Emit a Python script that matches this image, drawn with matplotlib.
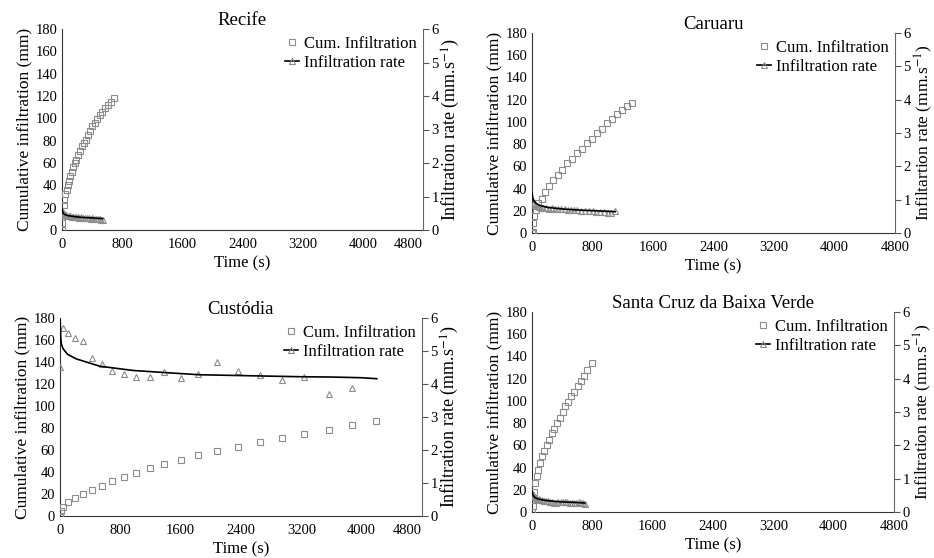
import matplotlib
matplotlib.use('Agg')
import matplotlib.pyplot as plt
from matplotlib.lines import Line2D

plt.rcParams['font.family'] = ['Liberation Serif', 'DejaVu Serif']
plt.rcParams['mathtext.fontset'] = 'stix'

# ---- data ----
# Recife
recife_cum_t = [0, 5, 10, 20, 30, 45, 60, 75, 90, 110, 130, 150, 170, 190, 215,
                240, 265, 290, 315, 345, 375, 405, 435, 465, 500, 535, 570, 610, 650, 690]
recife_cum = [0, 6, 13, 22, 27, 32, 36, 40, 44, 48, 52, 56, 60, 63, 67,
              71, 75, 78, 81, 85, 89, 93, 96, 99, 103, 106, 109, 112, 115, 118]
recife_rate_t = [0, 10, 20, 35, 50, 70, 90, 110, 130, 150, 170, 190, 210, 230, 255,
                 280, 305, 330, 355, 380, 405, 430, 455, 480, 500, 520, 540]
recife_rate = [0.50, 0.55, 0.47, 0.45, 0.44, 0.43, 0.42, 0.41, 0.40, 0.40, 0.39, 0.38, 0.38, 0.37, 0.38,
               0.36, 0.36, 0.37, 0.35, 0.34, 0.35, 0.33, 0.33, 0.32, 0.32, 0.31, 0.29]
recife_fit_t = [2, 10, 30, 60, 100, 200, 300, 400, 540]
recife_fit = [0.62, 0.53, 0.47, 0.44, 0.42, 0.39, 0.37, 0.36, 0.34]

# Caruaru
caruaru_cum_t = [0, 9, 18, 31, 53, 84, 128, 172, 230, 283, 340, 402, 459, 525, 591,
                 658, 724, 790, 857, 923, 989, 1055, 1120, 1185, 1250, 1320]
caruaru_cum = [0, 1, 9, 15, 21, 27, 31, 37, 42, 48, 52, 57, 63, 67, 72,
               76, 81, 85, 90, 94, 99, 103, 107, 111, 114, 117]
caruaru_rate_t = [0, 20, 40, 60, 90, 120, 150, 190, 230, 270, 310, 350, 390, 430,
                  470, 510, 550, 600, 650, 700, 750, 800, 850, 900, 950, 1000, 1050, 1100]
caruaru_rate = [1.00, 0.90, 0.84, 0.80, 0.78, 0.76, 0.75, 0.74, 0.73, 0.74, 0.72, 0.73, 0.72, 0.71,
                0.70, 0.70, 0.69, 0.68, 0.67, 0.66, 0.66, 0.65, 0.64, 0.63, 0.62, 0.61, 0.61, 0.66]
caruaru_fit_t = [2, 10, 30, 60, 100, 200, 400, 600, 800, 1000, 1100]
caruaru_fit = [1.19, 1.05, 0.95, 0.88, 0.83, 0.77, 0.72, 0.69, 0.67, 0.65, 0.64]

# Custodia
custodia_t = [0, 9, 40, 106, 194, 305, 429, 557, 694, 848, 1008, 1189, 1379, 1604,
              1825, 2077, 2355, 2651, 2943, 3239, 3562, 3867, 4189]
custodia_cum = [0, 5, 8.5, 12.8, 16, 20.4, 23.7, 27.4, 31.6, 35.6, 39.2, 43.8, 47.7, 51,
                55.6, 59.3, 62.9, 67.5, 71.1, 74.5, 78.4, 82.7, 86.3]
custodia_rate_t = [0, 44, 110, 194, 305, 429, 557, 694, 848, 1008, 1189, 1379, 1604,
                   1825, 2077, 2355, 2651, 2943, 3239, 3562, 3867]
custodia_rate = [4.53, 5.70, 5.55, 5.39, 5.31, 4.78, 4.61, 4.38, 4.29, 4.20, 4.21, 4.36, 4.19,
                 4.30, 4.68, 4.39, 4.28, 4.12, 4.20, 3.69, 3.88]
custodia_fit_t = [2, 10, 20, 40, 100, 217, 526, 968, 1500, 1852, 2300, 2735, 3200, 3619, 4000, 4200]
custodia_fit = [5.95, 5.40, 5.20, 5.07, 4.90, 4.76, 4.54, 4.41, 4.33, 4.28, 4.26, 4.24, 4.22, 4.21, 4.19, 4.16]

# Santa Cruz da Baixa Verde
scbv_cum_t = [0, 9, 17, 30, 43, 65, 86, 108, 138, 164, 195, 225, 259, 294, 329, 368,
              406, 441, 480, 519, 562, 605, 649, 692, 735, 791]
scbv_cum = [0, 5, 11, 18, 26, 32, 38, 44, 50, 55, 60, 65, 71, 75, 80, 85,
            90, 95, 99, 104, 108, 113, 118, 122, 128, 134]
scbv_rate_t = [0, 10, 20, 35, 50, 70, 90, 110, 135, 160, 185, 210, 235, 260, 290,
               320, 350, 380, 410, 440, 470, 500, 530, 560, 590, 620, 650, 680, 700]
scbv_rate = [0.50, 0.55, 0.48, 0.45, 0.42, 0.40, 0.38, 0.37, 0.36, 0.34, 0.33, 0.32, 0.30, 0.29, 0.28,
             0.28, 0.30, 0.30, 0.31, 0.30, 0.29, 0.28, 0.28, 0.27, 0.27, 0.30, 0.28, 0.26, 0.24]
scbv_fit_t = [2, 10, 30, 60, 100, 200, 300, 400, 550, 700]
scbv_fit = [0.62, 0.52, 0.45, 0.41, 0.38, 0.34, 0.32, 0.30, 0.29, 0.27]

x_ticks = [0, 800, 1600, 2400, 3200, 4000, 4800]

W, H = 934, 558
fig = plt.figure(figsize=(W / 100, H / 100), dpi=100)

grey = '#8c8c8c'


def panel(box, title, cum_t, cum, rate_t, rate, fit_t, fit, rlabel, last_ha, rsize):
    l, t, r, b = box
    ax = fig.add_axes([l / W, 1 - b / H, (r - l) / W, (b - t) / H])
    ax.plot(cum_t, cum, 's', ms=5, mfc='none', mec=grey, mew=0.8, zorder=3)
    ax.set_xlim(0, 4800)
    ax.set_ylim(0, 180)
    ax.set_yticks(range(0, 181, 20))
    ax.set_xticks(x_ticks)
    ax.tick_params(axis='both', length=0, labelsize=10.5)
    ax.tick_params(axis='x', pad=6)
    ax.get_xticklabels()[-1].set_ha(last_ha)
    ax.spines['top'].set_visible(False)
    ax.spines['right'].set_visible(False)
    for s in ['left', 'bottom']:
        ax.spines[s].set_color('#333333')
        ax.spines[s].set_linewidth(0.8)
    ax.set_xlabel('Time (s)', fontsize=12, labelpad=3)
    ax.set_ylabel('Cumulative infiltration (mm)', fontsize=12.5, labelpad=2)
    ax.set_title(title, fontsize=13.5, pad=3)

    ax2 = ax.twinx()
    ax2.plot(rate_t, rate, '^', ms=5, mfc='none', mec=grey, mew=0.8, zorder=3)
    ax2.plot(fit_t, fit, '-', color='black', lw=1.2, zorder=4)
    ax2.set_ylim(0, 6)
    ax2.set_yticks(range(0, 7))
    ax2.tick_params(axis='y', length=4, direction='out', labelsize=10.5, color='#555555', pad=2)
    ax2.spines['top'].set_visible(False)
    ax2.spines['left'].set_visible(False)
    ax2.spines['bottom'].set_visible(False)
    ax2.spines['right'].set_color('#666666')
    ax2.spines['right'].set_linewidth(0.8)
    ax2.set_ylabel(rlabel, fontsize=rsize, labelpad=1)

    handles = [
        Line2D([], [], ls='none', marker='s', ms=4, mfc='none', mec=grey, mew=0.8),
        Line2D([], [], ls='-', color='black', lw=1.2, marker='^', ms=4, mfc='none', mec=grey, mew=0.8),
    ]
    ax2.legend(handles, ['Cum. Infiltration', 'Infiltration rate'], loc='upper right',
               bbox_to_anchor=(1.0, 1.0), frameon=False, fontsize=12, handlelength=0.8,
               handletextpad=0.3, labelspacing=0.2, borderaxespad=0.0)
    return ax


rate_label = 'Infiltration rate (mm.s$^{-1}$)'
panel((62, 29, 423, 230), 'Recife', recife_cum_t, recife_cum, recife_rate_t, recife_rate,
      recife_fit_t, recife_fit, rate_label, 'right', 13)
panel((532, 33, 895, 233), 'Caruaru', caruaru_cum_t, caruaru_cum, caruaru_rate_t, caruaru_rate,
      caruaru_fit_t, caruaru_fit, 'Infiltartion rate (mm.s$^{-1}$)', 'center', 12.5)
panel((60, 318, 422, 516), 'Custódia', custodia_t, custodia_cum, custodia_rate_t, custodia_rate,
      custodia_fit_t, custodia_fit, rate_label, 'right', 13)
panel((532, 312, 894, 512), 'Santa Cruz da Baixa Verde', scbv_cum_t, scbv_cum, scbv_rate_t, scbv_rate,
      scbv_fit_t, scbv_fit, rate_label, 'center', 12.5)

fig.savefig('out.png', dpi=100)
